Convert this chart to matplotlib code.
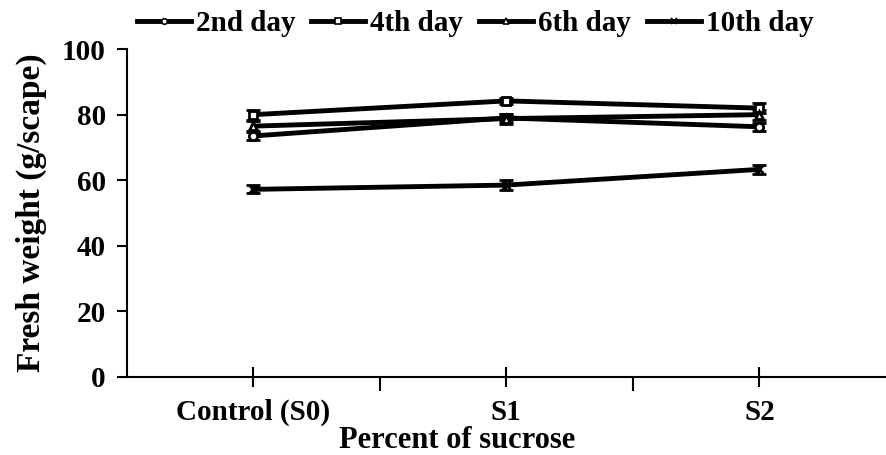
import matplotlib
matplotlib.use("Agg")
import matplotlib.pyplot as plt
from matplotlib.lines import Line2D

plt.rcParams['font.family'] = ['Liberation Serif', 'DejaVu Serif']
plt.rcParams['font.weight'] = 'bold'

# Data
categories = ['Control (S0)', 'S1', 'S2']
day2 = [73.5, 79.0, 76.3]
day4 = [80.0, 84.2, 82.0]
day6 = [76.5, 78.8, 80.0]
day10 = [57.2, 58.5, 63.3]
err2 = [1.2, 1.2, 1.2]
err4 = [1.5, 1.0, 1.5]
err6 = [1.5, 1.5, 1.5]
err10 = [1.2, 1.5, 1.3]
series_labels = ['2nd day', '4th day', '6th day', '10th day']
markers = ['o', 's', '^', 'x']

fig = plt.figure(figsize=(8.86, 4.55), dpi=100)
ax = fig.add_axes([0.143, 0.172, 0.857, 0.72])

x = [1, 2, 3]
for vals, errs, lab, mk in zip([day2, day4, day6, day10], [err2, err4, err6, err10],
                               series_labels, markers):
    ax.errorbar(x, vals, yerr=errs, color='black', linewidth=3.5, marker=mk,
                markersize=6, markerfacecolor='white', markeredgecolor='black',
                markeredgewidth=2, ecolor='black', elinewidth=1.5, capsize=5,
                capthick=2)

ax.set_xlim(0.5, 3.5)
ax.set_ylim(0, 100)
ax.set_yticks([0, 20, 40, 60, 80, 100])
ax.set_xticks(x)
ax.set_xticklabels(categories)
ax.set_xticks([1.5, 2.5], minor=True)

for s in ['top', 'right']:
    ax.spines[s].set_visible(False)
for s in ['left', 'bottom']:
    ax.spines[s].set_linewidth(1.5)

ax.tick_params(axis='y', direction='out', length=7, width=1.5, pad=8, labelsize=21)
ax.tick_params(axis='x', which='major', direction='inout', length=14, width=1.5,
               pad=9, labelsize=21)
ax.tick_params(axis='x', which='minor', direction='out', length=10, width=1.5)
for t in ax.get_xticklabels() + ax.get_yticklabels():
    t.set_fontweight('bold')

ax.set_ylabel('Fresh weight (g/scape)', fontsize=24, fontweight='bold')
ax.yaxis.set_label_coords(-0.105, 0.5)
ax.set_xlabel('Percent of sucrose', fontsize=22, fontweight='bold')
ax.xaxis.set_label_coords(0.435, -0.15)

# legend: plain line with a small marker
handles = [Line2D([], [], color='black', linewidth=3.5, marker=mk, markersize=4,
                  markerfacecolor='white', markeredgecolor='black', markeredgewidth=1.2)
           for mk in markers]
leg = ax.legend(handles, series_labels, loc='center', bbox_to_anchor=(0.459, 1.079),
                ncol=4, frameon=False, fontsize=21, handlelength=1.85,
                handletextpad=0.17, columnspacing=0.55, borderpad=0)
for t in leg.get_texts():
    t.set_fontweight('bold')

fig.savefig('out.png', dpi=100)
